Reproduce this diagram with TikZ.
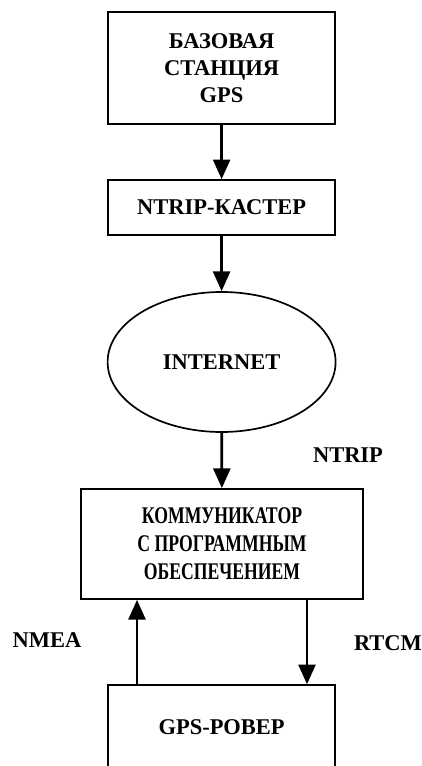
\documentclass[tikz,border=0pt]{standalone}
\usepackage{fontspec}
\setmainfont{Liberation Serif}
\newfontfamily\narrowserif{Liberation Serif}[FakeStretch=0.74]
\usetikzlibrary{arrows.meta,shapes.geometric}

\begin{document}
\begin{tikzpicture}[
    block/.style={draw, line width=1.2pt, minimum width=5.675cm, align=center,
        font=\fontsize{16}{19}\selectfont\bfseries},
    flow/.style={-{Triangle[width=12pt,length=14pt]}, line width=2pt},
    tag/.style={font=\fontsize{16}{19}\selectfont\bfseries}
    ]

    \useasboundingbox (0,0) rectangle (10.525,-19.15);

    \node[block, minimum height=2.8cm] (base) at (5.54,-1.7) {БАЗОВАЯ\\СТАНЦИЯ\\GPS};
    \node[block, minimum height=1.375cm] (caster) at (5.54,-5.19) {NTRIP-КАСТЕР};
    \node[block, ellipse, inner sep=0pt, minimum width=5.7cm, minimum height=3.5cm] (inet) at (5.54,-9.05) {INTERNET};
    \node[block, minimum width=7.05cm, minimum height=2.75cm,
        font=\fontsize{17}{20}\selectfont\bfseries\narrowserif] (comm) at (5.55,-13.6)
        {КОММУНИКАТОР\\С ПРОГРАММНЫМ\\ОБЕСПЕЧЕНИЕМ};
    \node[block, minimum height=2.125cm] (rover) at (5.54,-18.19) {GPS-РОВЕР};

    \node[tag] (ntrip) at (8.7,-11.375) {NTRIP};
    \node[tag] (nmea) at (1.175,-16.0) {NMEA};
    \node[tag] (rtcm) at (9.7,-16.075) {RTCM};

    \coordinate (up) at (3.425,0);
    \coordinate (down) at (7.675,0);

    \draw[flow] (base) -- (caster);
    \draw[flow] (caster) -- (inet);
    \draw[flow] (inet) -- (comm);
    \draw[flow] (rover.north -| up) -- (comm.south -| up);
    \draw[flow] (comm.south -| down) -- (rover.north -| down);

\end{tikzpicture}
\end{document}
